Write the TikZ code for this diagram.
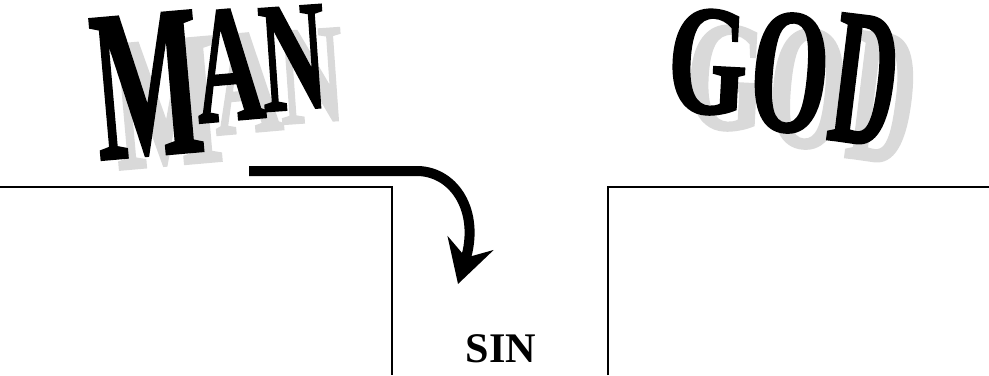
\documentclass[tikz,border=0pt]{standalone}
\usepackage{fontspec}
\setmainfont{Liberation Serif}
\newfontfamily\artfont{Liberation Serif Bold}[FakeBold=1.5]
\usetikzlibrary{arrows.meta, positioning, calc}

\tikzset{
    wordart/.style={inner sep=0pt, font=\fontsize{100}{100}\artfont},
    ink/.style={wordart, text=black},
    shade/.style={wordart, text=black!15},
    cliff/.style={line width=1.3pt, black},
    fall/.style={line width=0.2cm, -{Stealth[length=0.85cm, width=0.95cm, inset=0.3cm]}},
}

\begin{document}
\begin{tikzpicture}[x=0.02cm, y=-0.02cm]
    \useasboundingbox (0,0) rectangle (989,375);

    % Shadows of the titles
    \node[shade, rotate=5] (man-ms) at (166,103) {\scalebox{0.65}[1.08]{M}};
    \node[shade, rotate=5] (man-as) at (246,83)  {\scalebox{0.54}[0.85]{A}};
    \node[shade, rotate=4] (man-ns) at (311,76)  {\scalebox{0.52}[0.80]{N}};
    \node[shade, rotate=-3] (god-gs) at (726,78) {\scalebox{0.58}[0.89]{G}};
    \node[shade, rotate=-5] (god-os) at (808,89) {\scalebox{0.57}[1.01]{O}};
    \node[shade, rotate=-7] (god-ds) at (883,98) {\scalebox{0.51}[1.10]{D}};

    % MAN
    \node[ink, rotate=5] (man-m) at (147,85) {\scalebox{0.65}[1.22]{M}};
    \node[ink, rotate=5] (man-a) at (228,65) {\scalebox{0.54}[0.95]{A}};
    \node[ink, rotate=4] (man-n) at (293,58) {\scalebox{0.52}[0.89]{N}};

    % GOD
    \node[ink, rotate=-3] (god-g) at (708,62) {\scalebox{0.58}[0.89]{G}};
    \node[ink, rotate=-5] (god-o) at (790,73) {\scalebox{0.57}[1.01]{O}};
    \node[ink, rotate=-7] (god-d) at (865,80) {\scalebox{0.51}[1.10]{D}};

    % The two sides of the gap
    \draw[cliff] (0,187) -- (392,187) -- (392,375);
    \draw[cliff] (608,375) -- (608,187) -- (989,187);

    % Gap
    \node[font=\fontsize{24}{24}\selectfont\bfseries] (sin) at (501,349) {SIN};

    % Falling arrow
    \coordinate (fall-start) at (249,171);
    \coordinate (fall-bend) at (418,171);
    \coordinate (fall-end) at (458,284);
    \draw[fall] (fall-start) -- (fall-bend) .. controls (455,172) and (480,212) .. (fall-end);
\end{tikzpicture}
\end{document}
